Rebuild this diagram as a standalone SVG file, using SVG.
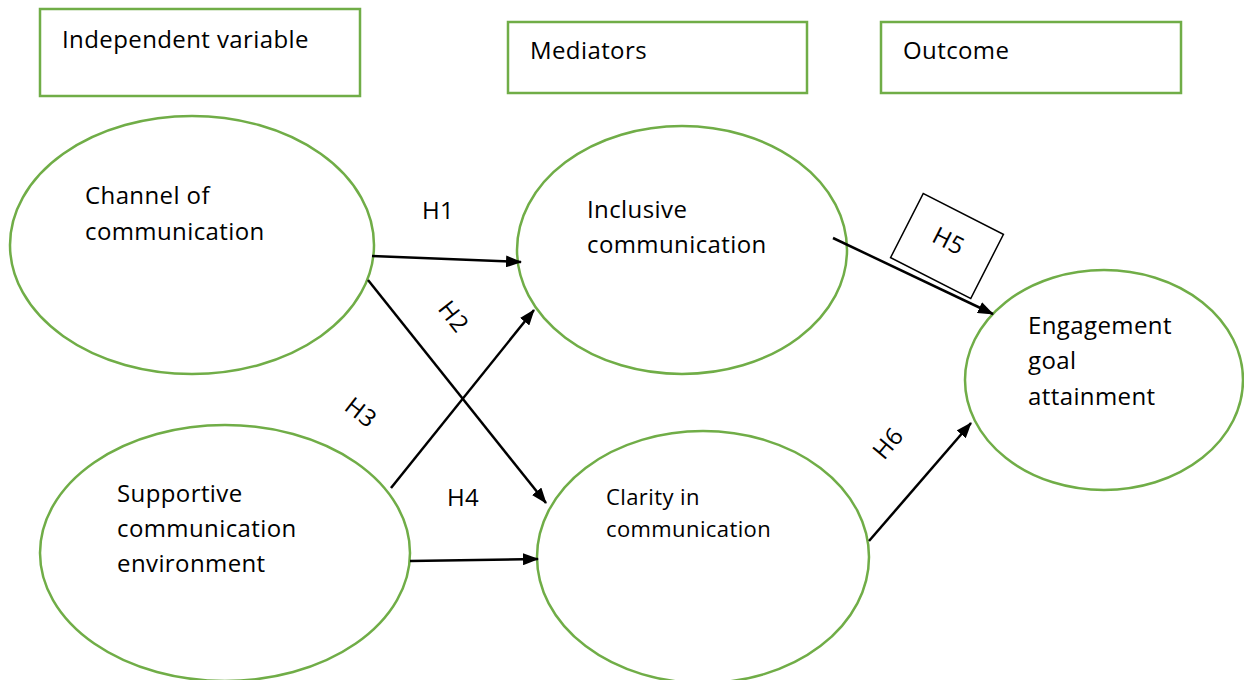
<svg xmlns="http://www.w3.org/2000/svg" width="1244" height="680" viewBox="0 0 1244 680">
<style>
.box{fill:#fff;stroke:#70AD47;stroke-width:2.5}
.ell{fill:#fff;stroke:#70AD47;stroke-width:2.5}
.t{font-family:"Open Sans","Liberation Sans",sans-serif;font-size:24px;letter-spacing:0.4px;fill:#000}
.s{font-size:22px}
.c{stroke:#000;stroke-width:2.5;fill:none;marker-end:url(#ah)}
</style>
<defs>
<marker id="ah" viewBox="0 0 16 12" refX="15" refY="6" markerWidth="16" markerHeight="12" markerUnits="userSpaceOnUse" orient="auto">
<path d="M0,0 L16,6 L0,12 z" fill="#000"/>
</marker>
</defs>
<rect width="1244" height="680" fill="#fff"/>
<g id="box-independent"><rect class="box" x="40" y="9" width="320" height="87"/><text class="t" x="62" y="48">Independent variable</text></g>
<g id="box-mediators"><rect class="box" x="508" y="22" width="299" height="71"/><text class="t" x="530" y="59">Mediators</text></g>
<g id="box-outcome"><rect class="box" x="881" y="22" width="300" height="71"/><text class="t" x="903" y="59">Outcome</text></g>
<g id="node-channel"><ellipse class="ell" cx="192" cy="245" rx="182" ry="129"/><text class="t" x="85" y="204">Channel of</text><text class="t" x="85" y="240">communication</text></g>
<g id="node-inclusive"><ellipse class="ell" cx="682" cy="250" rx="165" ry="124"/><text class="t" x="587" y="218">Inclusive</text><text class="t" x="587" y="253">communication</text></g>
<g id="node-supportive"><ellipse class="ell" cx="225" cy="553" rx="185" ry="128"/><text class="t" x="117" y="502">Supportive</text><text class="t" x="117" y="537">communication</text><text class="t" x="117" y="572">environment</text></g>
<g id="node-clarity"><ellipse class="ell" cx="703" cy="557" rx="166" ry="126"/><text class="t s" x="606" y="505">Clarity in</text><text class="t s" x="606" y="537">communication</text></g>
<g id="node-engagement"><ellipse class="ell" cx="1104" cy="380" rx="139" ry="110"/><text class="t" x="1028" y="334">Engagement</text><text class="t" x="1028" y="369">goal</text><text class="t" x="1028" y="405">attainment</text></g>
<g id="connectors">
<line class="c" x1="372" y1="256" x2="521" y2="262"/>
<line class="c" x1="368" y1="280" x2="546" y2="503"/>
<line class="c" x1="391" y1="488" x2="534" y2="310"/>
<line class="c" x1="410" y1="561" x2="538" y2="559"/>
<line class="c" x1="833" y1="238" x2="993" y2="314"/>
<line class="c" x1="869" y1="541" x2="971" y2="423"/>
</g>
<g id="labels">
<text class="t" x="422" y="219">H1</text>
<text class="t" transform="translate(437,309) rotate(52)">H2</text>
<text class="t" transform="translate(343,409) rotate(38)">H3</text>
<text class="t" x="447" y="506">H4</text>
<g transform="translate(947,246) rotate(27)"><rect x="-45" y="-36" width="90" height="72" fill="none" stroke="#000" stroke-width="1.5"/><text class="t" x="-17" y="3">H5</text></g>
<text class="t" transform="translate(884,461) rotate(-50)">H6</text>
</g>
</svg>
